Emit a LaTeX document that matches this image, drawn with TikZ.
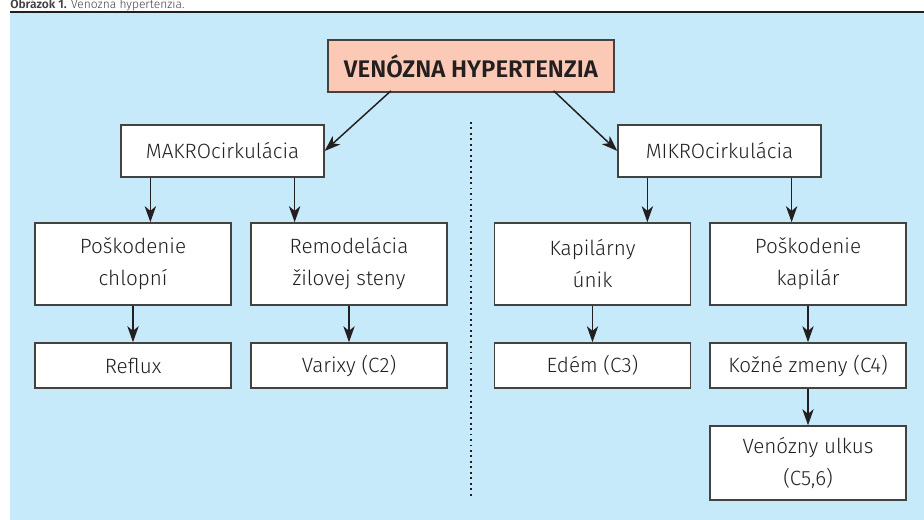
\documentclass[tikz,border=0pt]{standalone}
\usepackage{fontspec}
\setmainfont{Fira Sans}[UprightFont=* Light,BoldFont=* SemiBold]
\usetikzlibrary{arrows.meta}

\definecolor{bgblue}{RGB}{198,234,249}
\definecolor{boxpink}{RGB}{251,201,181}
\definecolor{inkgray}{RGB}{35,31,32}

\tikzstyle{cause}=[draw=inkgray!85,line width=1.2pt,fill=white,text=inkgray,align=center,inner sep=0pt,minimum width=147pt,font=\fontsize{15.5}{24}\selectfont]
\tikzstyle{top}=[cause,fill=boxpink,minimum width=214.5pt,minimum height=39pt,font=\fontsize{18}{20}\selectfont\bfseries]
\tikzstyle{level}=[cause,minimum width=152pt,minimum height=39pt]
\tikzstyle{tall}=[cause,minimum height=61.5pt]
\tikzstyle{short}=[cause,minimum height=33.75pt]
\tikzstyle{link}=[->,draw=inkgray,line width=1.1pt]

\begin{document}
\begin{tikzpicture}[x=0.75pt,y=-0.75pt,>={Stealth[length=12pt,width=8.5pt,inset=3.5pt]}]
  \useasboundingbox (0,0) rectangle (924,520);
  \node (caption) [anchor=base west,inner sep=0pt,text=inkgray!85,font=\fontsize{9}{10}\selectfont] at (10,8.5) {\textbf{Obrázok 1.} Venózna hypertenzia.};
  \fill[bgblue] (10,13) rectangle (924,520);
  \draw[inkgray,line width=1.7pt] (10,12) -- (924,12);

  \node (venhyp) [top] at (471,66) {VENÓZNA HYPERTENZIA};
  \node (makro) [level] at (222.5,151) {MAKROcirkulácia};
  \node (mikro) [level] at (719.5,151) {MIKROcirkulácia};

  \node (chlopne) [tall] at (133,264) {Poškodenie\\chlopní};
  \node (stena) [tall] at (349,264) {Remodelácia\\žilovej steny};
  \node (unik) [tall] at (592.5,264) {Kapilárny\\únik};
  \node (kapilar) [tall] at (808,264) {Poškodenie\\kapilár};

  \node (reflux) [short] at (133,365.5) {Reflux};
  \node (varixy) [short] at (349,365.5) {Varixy (C2)};
  \node (edem) [short] at (592.5,365.5) {Edém (C3)};
  \node (koza) [short] at (808,365.5) {Kožné zmeny (C4)};
  \node (ulkus) [cause,minimum height=55.5pt] at (808,463) {Venózny ulkus\\(C5,6)};

  % dotted separator
  \coordinate (sep1) at (471,122);
  \coordinate (sep2) at (471,497);
  \draw[inkgray,line width=1.5pt,dash pattern=on 1.4pt off 2.7pt] (sep1) -- (sep2);

  % off-centre arrow starts
  \coordinate (ma) at ([xshift=22.5pt]makro.south west);
  \coordinate (mb) at ([xshift=-22.5pt]makro.south east);
  \coordinate (mc) at ([xshift=22.5pt]mikro.south west);
  \coordinate (md) at ([xshift=-22.5pt]mikro.south east);

  \draw[link] ([xshift=-60pt,yshift=1.5pt]venhyp.south) -- (makro.east);
  \draw[link] ([xshift=62pt,yshift=1.5pt]venhyp.south) -- (mikro.west);
  \draw[link] (ma) -- (ma |- chlopne.north);
  \draw[link] (mb) -- (mb |- stena.north);
  \draw[link] (mc) -- (mc |- unik.north);
  \draw[link] (md) -- (md |- kapilar.north);
  \draw[link] (chlopne) -- (reflux);
  \draw[link] (stena) -- (varixy);
  \draw[link] (unik) -- (edem);
  \draw[link] (kapilar) -- (koza);
  \draw[link] (koza) -- (ulkus);
\end{tikzpicture}
\end{document}
